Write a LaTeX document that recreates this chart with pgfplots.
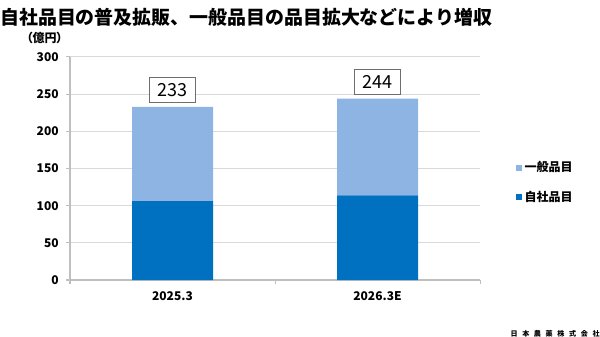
\documentclass[border=0pt]{standalone}
\usepackage{fontspec}
\setmainfont{Noto Sans CJK JP}
\newfontfamily\jpp{Noto Sans CJK JP}[RawFeature=+palt]
\usepackage{pgfplots}
\pgfplotsset{compat=1.18}
\definecolor{dk}{RGB}{0,112,192}
\definecolor{lt}{RGB}{142,180,227}
\definecolor{gridc}{RGB}{217,217,217}
\definecolor{axc}{RGB}{191,191,191}
\definecolor{boxc}{RGB}{110,110,110}
\begin{document}
\begin{tikzpicture}
\path[use as bounding box] (0,0) rectangle (450pt,252pt);
\node[anchor=west, inner sep=0pt, font=\fontsize{14.2pt}{16pt}\selectfont\bfseries] at (0,239.25pt) {自社品目の普及拡販、一般品目の品目拡大などにより増収};
\node[inner sep=0pt, font=\jpp\fontsize{9pt}{10pt}\selectfont\bfseries] at (33.4pt,223.9pt) {（億円）};
\begin{axis}[
  at={(52.5pt,42pt)}, anchor=south west, scale only axis,
  width=307.5pt, height=167.25pt,
  ybar stacked, bar width=60.75pt,
  xmin=-0.5, xmax=1.5, ymin=0, ymax=300,
  ytick={0,50,...,300},
  xtick={-0.5,0.5,1.5}, xticklabels={},
  extra x ticks={0,1}, extra x tick labels={2025.3,2026.3E},
  extra x tick style={major tick length=0pt, grid=none,
    xticklabel style={yshift=-5pt}},
  tick align=outside, major tick length=3pt,
  tick style={draw=axc, line width=0.75pt},
  ymajorgrids, grid style={draw=gridc, line width=0.75pt},
  axis lines*=left, axis line style={draw=axc, line width=0.75pt, -},
  /pgf/number format/assume math mode=true,
  ticklabel style={font=\fontsize{9pt}{10pt}\selectfont\bfseries},
  yticklabel style={xshift=-2pt},
  legend style={draw=none, fill=none, at={(1.087,0.437)}, anchor=west,
    font=\fontsize{9pt}{10pt}\selectfont\bfseries, row sep=9pt, inner sep=0pt,
    nodes={inner sep=2pt}},
  legend image code/.code={\fill[#1] (0pt,-2.25pt) rectangle (4.5pt,2.25pt);},
  reverse legend,
  clip=false,
]
\addplot[fill=dk, draw=none] coordinates {(0,106) (1,114)};
\addplot[fill=lt, draw=none] coordinates {(0,127) (1,130)};
\legend{自社品目,一般品目}
\node[text=white, font=\fontsize{14pt}{16pt}\selectfont\bfseries] at (axis cs:0,53) {106};
\node[text=white, font=\fontsize{14pt}{16pt}\selectfont\bfseries] at (axis cs:1,57) {114};
\node[text=black, font=\fontsize{14pt}{16pt}\selectfont\bfseries] at (axis cs:0,169.5) {127};
\node[text=black, font=\fontsize{14pt}{16pt}\selectfont\bfseries] at (axis cs:1,179) {130};
\node[draw=boxc, line width=0.6pt, fill=white, anchor=south, minimum width=34.5pt, minimum height=18.75pt, inner sep=0pt, yshift=3pt, font=\fontsize{13.5pt}{15pt}\selectfont] at (axis cs:0,233) {233};
\node[draw=boxc, line width=0.6pt, fill=white, anchor=south, minimum width=34.5pt, minimum height=18.75pt, inner sep=0pt, yshift=3pt, font=\fontsize{13.5pt}{15pt}\selectfont] at (axis cs:1,244) {244};
\end{axis}
\node[anchor=east, inner sep=0pt, font=\fontsize{5.3pt}{6pt}\selectfont\bfseries] at (450pt,2pt) {日\hspace{3.5pt}本\hspace{3.5pt}農\hspace{3.5pt}薬\hspace{3.5pt}株\hspace{3.5pt}式\hspace{3.5pt}会\hspace{3.5pt}社};
\end{tikzpicture}
\end{document}
